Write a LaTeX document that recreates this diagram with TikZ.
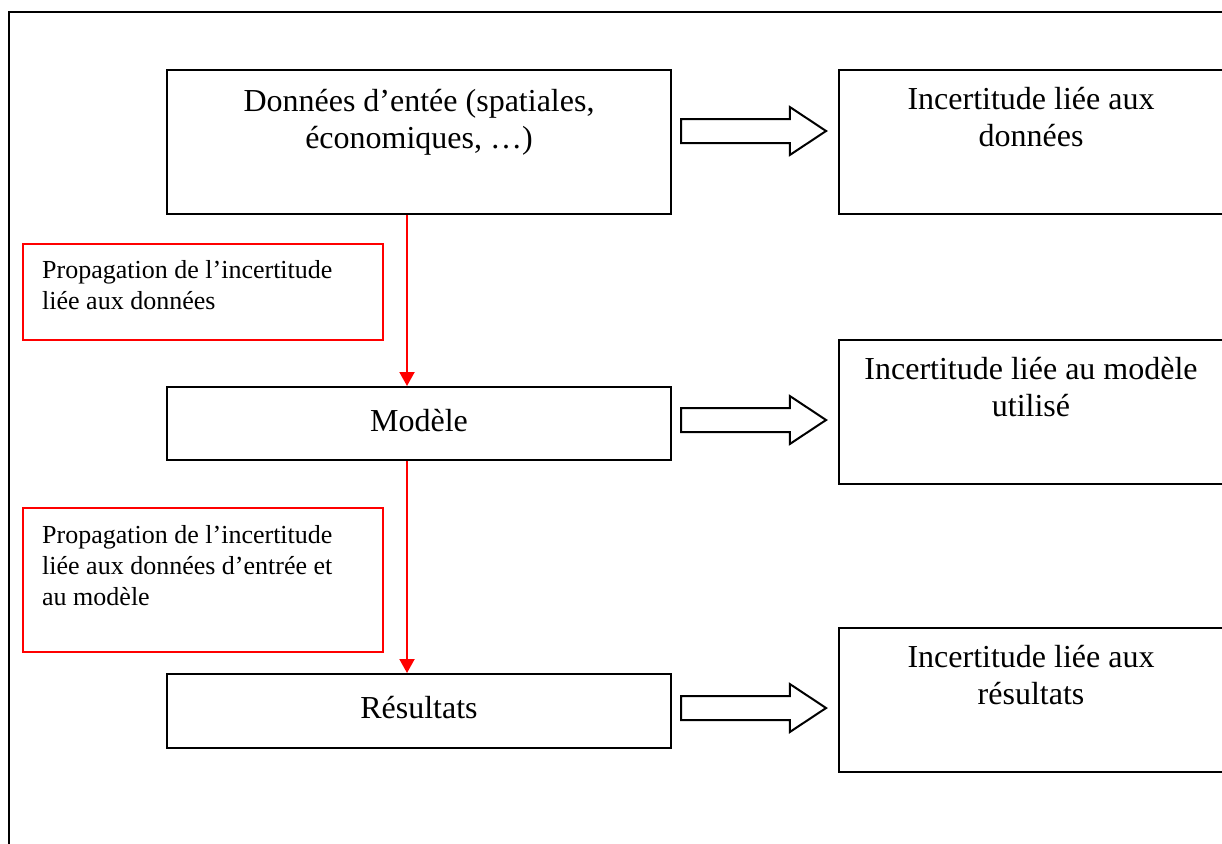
\documentclass[tikz,border=0pt]{standalone}
\usepackage{fontspec}
\setmainfont{Liberation Serif}
\usetikzlibrary{shapes.arrows,arrows.meta}

\tikzset{
  box/.style={draw, line width=2pt, inner sep=0pt},
  redbox/.style={draw=red, line width=2pt, inner sep=0pt},
  bigtxt/.style={font=\fontsize{32}{37}\selectfont, align=center, inner sep=0pt},
  smalltxt/.style={font=\fontsize{26}{31}\selectfont, align=left, inner sep=0pt},
  hollow/.style={single arrow, draw, line width=2pt, inner sep=11pt, minimum height=145pt,
    minimum width=46pt, single arrow head extend=12pt, single arrow tip angle=67},
  redarrow/.style={draw=red, line width=2pt, -{Triangle[width=15pt,length=14pt]}}
}

\begin{document}
\begin{tikzpicture}[x=1pt,y=-1pt]
  \useasboundingbox (0,0) rectangle (1222,843);
  \clip (0,0) rectangle (1222,843);
  % cadre
  \draw[line width=2pt] (9,900) -- (9,12) -- (1300,12);

  % colonne de gauche
  \node[box, minimum width=504pt, minimum height=144pt] (donnees) at (419,142) {};
  \node[bigtxt, anchor=north] (donnees-t) at ([yshift=-20pt]donnees.north)
    {Données d’entée (spatiales,\\économiques, …)};
  \node[box, bigtxt, minimum width=504pt, minimum height=73pt] (modele) at (419,423.5) {Modèle\vphantom{g}};
  \node[box, bigtxt, minimum width=504pt, minimum height=74pt] (resultats) at (419,711) {Résultats\vphantom{g}};

  % propagation
  \node[redbox, minimum width=360pt, minimum height=96pt] (prop1) at (203,292) {};
  \node[smalltxt, anchor=north west] (prop1-t) at ([xshift=20pt,yshift=-17pt]prop1.north west)
    {Propagation de l’incertitude\\liée aux données};
  \node[redbox, minimum width=360pt, minimum height=144pt] (prop2) at (203,580) {};
  \node[smalltxt, anchor=north west] (prop2-t) at ([xshift=20pt,yshift=-18pt]prop2.north west)
    {Propagation de l’incertitude\\liée aux données d’entrée et\\au modèle};

  \draw[redarrow] ([xshift=-12pt]donnees.south) -- ([xshift=-12pt]modele.north);
  \draw[redarrow] ([xshift=-12pt]modele.south) -- ([xshift=-12pt]resultats.north);

  % incertitudes
  \foreach \y/\nom/\txt in {142/ia/{Incertitude liée aux\\données},
      412/ib/{Incertitude liée au modèle\\utilisé},
      700/ic/{Incertitude liée aux\\résultats}}{
    \node[box, minimum width=384pt, minimum height=144pt] (\nom) at (1031,\y) {};
    \node[bigtxt, anchor=north] (\nom-t) at ([yshift=-18pt]\nom.north) {\txt};
  }

  \foreach \y/\nom in {131/fa, 420/fb, 708/fc}{
    \node[hollow] (\nom) at (744.5,\y) {};
  }
\end{tikzpicture}
\end{document}
